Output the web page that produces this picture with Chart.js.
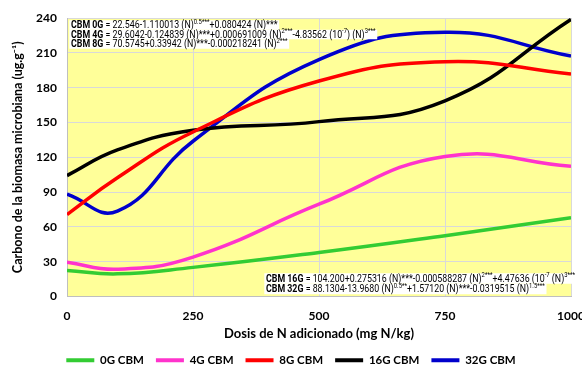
<!DOCTYPE html>
<html>
<head>
<meta charset="utf-8">
<script src="https://cdn.jsdelivr.net/npm/chart.js@4.4.1/dist/chart.umd.min.js"></script>
<style>
  html, body { margin: 0; padding: 0; background: #ffffff; }
  #wrap { width: 582px; height: 376px; }
</style>
</head>
<body>
<div id="wrap"><canvas id="c" width="582" height="376"></canvas></div>
<script>
// N doses (mg N/kg) and microbial biomass carbon (ug/g) per treatment
const doses  = [0, 100, 250, 500, 750, 1000];
const cbm0G  = [22.5, 19.5, 25.1, 37.9, 52.4, 67.8];
const cbm4G  = [29.6, 23.5, 34.0, 79.5, 120.7, 112.2];
const cbm8G  = [70.6, 102.3, 141.8, 185.7, 202.4, 191.8];
const cbm16G = [104.2, 126.3, 143.3, 150.7, 168.6, 238.8];
const cbm32G = [88.1, 73.6, 133.8, 204.2, 227.7, 207.2];

const seriesNames  = ['0G CBM', '4G CBM', '8G CBM', '16G CBM', '32G CBM'];
const seriesColors = ['#33CC33', '#FF33CC', '#FF0000', '#000000', '#0000CC'];

const xTitle = 'Dosis de N adicionado (mg N/kg)';
const yTitle = 'Carbono de la biomasa microbiana (ug.g\u207B\u00B9)';

// Regression equations: segments of [text, style] where style b = bold, s = superscript
const eqTop = [
  [['CBM 0G', 'b'], [' = 22.546-1.110013 (N)'], ['0.5***', 's'], ['+0.080424 (N)***']],
  [['CBM 4G', 'b'], [' = 29.6042-0.124839 (N)***+0.000691009 (N)'], ['2***', 's'], ['-4.83562 (10'], ['-7', 's'], [') (N)'], ['3***', 's']],
  [['CBM 8G', 'b'], [' = 70.5745+0.33942 (N)***-0.000218241 (N)'], ['2***', 's']]
];
const eqBottom = [
  [['CBM 16G', 'b'], [' = 104.200+0.275316 (N)***-0.000588287 (N)'], ['2***', 's'], ['+4.47636 (10'], ['-7', 's'], [' (N)'], ['3***', 's']],
  [['CBM 32G', 'b'], [' = 88.1304-13.9680 (N)'], ['0.5**', 's'], ['+1.57120 (N)***-0.0319515 (N)'], ['1.5***', 's']]
];

const seriesData = [cbm0G, cbm4G, cbm8G, cbm16G, cbm32G];
const datasets = seriesData.map((vals, i) => ({
  label: seriesNames[i],
  data: doses.map((d, j) => ({ x: d, y: vals[j] })),
  borderColor: seriesColors[i],
  backgroundColor: seriesColors[i],
  borderWidth: 3.5,
  pointRadius: 0,
  tension: 0.45,
  fill: false
}));

const FONT = "'Lato', 'Open Sans', sans-serif";

function segFont(style) {
  if (style === 'b') return "bold 10.5px 'Roboto', sans-serif";
  if (style === 's') return "7px 'Roboto', sans-serif";
  return "10.5px 'Roboto', sans-serif";
}

// one equation line on a white strip, horizontally condensed
function drawEquation(ctx, x, y, segs, sx, h) {
  ctx.save();
  ctx.translate(x, y);
  ctx.scale(sx, 1);
  let w = 0;
  const widths = segs.map(([t, st]) => { ctx.font = segFont(st); const m = ctx.measureText(t).width; w += m; return m; });
  ctx.fillStyle = '#ffffff';
  ctx.fillRect(-2, -h / 2, w + 4, h);
  ctx.fillStyle = '#000000';
  ctx.textBaseline = 'middle';
  let cx = 0;
  segs.forEach(([t, st], k) => {
    ctx.font = segFont(st);
    ctx.fillText(t, cx, st === 's' ? -3 : 0.5);
    cx += widths[k];
  });
  ctx.restore();
}

const plotBackground = {
  id: 'plotBackground',
  beforeDraw(chart) {
    const { ctx, chartArea: a } = chart;
    ctx.save();
    ctx.fillStyle = '#FFFF99';
    ctx.fillRect(a.left, a.top, a.right - a.left, a.bottom - a.top);
    ctx.restore();
  }
};

const equations = {
  id: 'equations',
  afterDatasetsDraw(chart) {
    const { ctx, chartArea: a } = chart;
    const sx = 0.84;
    eqTop.forEach((segs, i) => drawEquation(ctx, a.left + 4, a.top + 7 + i * 9.5, segs, sx, 9.5));
    eqBottom.forEach((segs, i) => drawEquation(ctx, a.left + 199, a.bottom - 18 + i * 10.5, segs, sx, 10.5));
  }
};

new Chart(document.getElementById('c'), {
  type: 'line',
  data: { datasets },
  plugins: [plotBackground, equations],
  options: {
    responsive: false,
    animation: false,
    devicePixelRatio: 1,
    layout: { padding: { top: 18, right: 0, left: 0, bottom: 0 } },
    scales: {
      x: {
        type: 'linear',
        min: 0, max: 1000,
        afterFit(scale) { scale.height = 46; scale.paddingRight = 11; scale.paddingLeft = 0; },
        ticks: { stepSize: 250, color: '#000', font: { family: FONT, weight: 'bold', size: 12 }, padding: 12, maxRotation: 0,
                 callback: v => String(v) },
        grid: { color: '#d9d9d9', lineWidth: 1, drawTicks: false },
        border: { color: '#bfbfbf' },
        title: { display: true, text: xTitle, color: '#000', font: { family: FONT, weight: 'bold', size: 13 }, padding: { top: 1, bottom: 1 } }
      },
      y: {
        min: 0, max: 240,
        afterFit(scale) { scale.width = 67; },
        ticks: { stepSize: 30, color: '#000', font: { family: FONT, weight: 'bold', size: 12 }, padding: 10 },
        grid: { color: '#d9d9d9', lineWidth: 1, drawTicks: false },
        border: { color: '#bfbfbf' },
        title: { display: true, text: yTitle, color: '#000', font: { family: FONT, weight: 'bold', size: 12.5 }, padding: { top: 10, bottom: 6 } }
      }
    },
    plugins: {
      legend: {
        position: 'bottom',
        labels: {
          color: '#000',
          font: { family: FONT, weight: 'bold', size: 11.5 },
          boxWidth: 28,
          boxHeight: 4,
          padding: 12,
          generateLabels(chart) {
            return Chart.defaults.plugins.legend.labels.generateLabels(chart)
              .map(l => Object.assign(l, { lineWidth: 0, fillStyle: l.strokeStyle }));
          }
        }
      },
      tooltip: { enabled: false }
    }
  }
});
</script>
</body>
</html>
